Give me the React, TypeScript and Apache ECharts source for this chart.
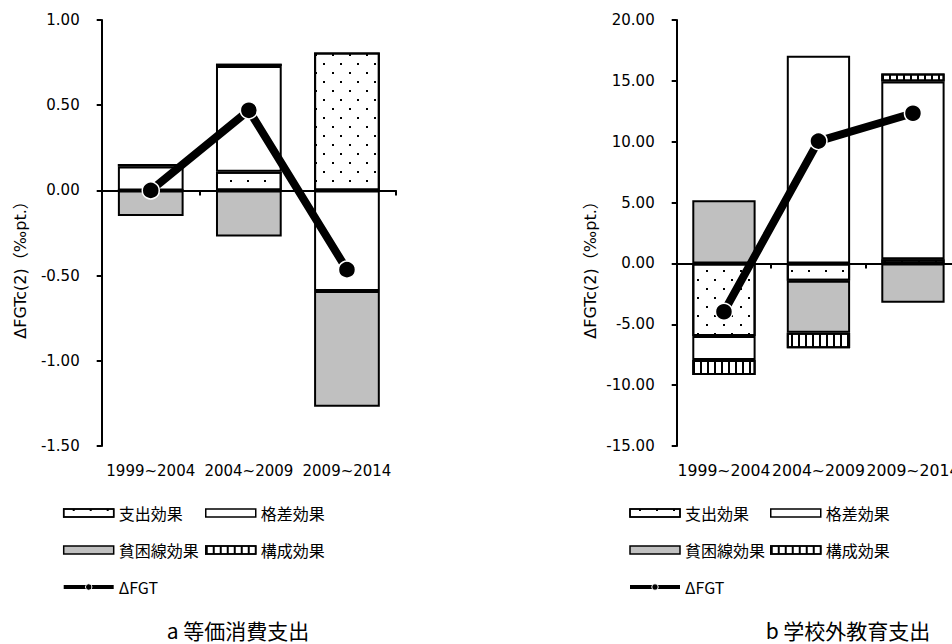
import React, { useEffect, useRef } from 'react';
import * as echarts from 'echarts';

const categories = ['1999~2004', '2004~2009', '2009~2014'];

// a 等価消費支出 (‰pt.)
const aSpending = [0.0, 0.11, 0.81];
const aGap = [0.14, 0.62, -0.59];
const aPoverty = [-0.15, -0.27, -0.68];
const aComposition = [0.015, 0.013, null];
const aFGT = [0.0, 0.47, -0.465];
const aTicks = { min: -1.5, max: 1.0, interval: 0.5 };

// b 学校外教育支出 (‰pt.)
const bSpending = [-5.96, -1.43, 0.35];
const bGap = [-1.97, 17.07, 14.6];
const bPoverty = [5.19, -4.26, -3.23];
const bComposition = [-1.23, -1.28, 0.65];
const bFGT = [-3.97, 10.05, 12.34];
const bTicks = { min: -15, max: 20, interval: 5 };

const seriesNames = ['支出効果', '格差効果', '貧困線効果', '構成効果', 'ΔFGT'];
const yName = 'ΔFGTc(2)（‰pt.）';
const titles = ['a 等価消費支出', 'b 学校外教育支出'];

const LATIN = '"DejaVu Sans", "Noto Sans CJK JP", sans-serif';
const CJK = '"Noto Sans CJK JP", "DejaVu Sans", sans-serif';

const dotsDecal = {
  symbol: 'rect',
  symbolSize: 1,
  symbolKeepAspect: false,
  color: '#000',
  backgroundColor: '#fff',
  dashArrayX: [[2, 15], [0, 9, 2, 6]],
  dashArrayY: [2, 7],
};
const stripeDecal = {
  symbol: 'rect',
  symbolSize: 1,
  symbolKeepAspect: false,
  color: '#000',
  backgroundColor: '#fff',
  dashArrayX: [2, 5],
  dashArrayY: [10, 0],
};

const barStyles = [
  { color: '#fff', borderColor: '#000', borderWidth: 2, decal: dotsDecal },
  { color: '#fff', borderColor: '#000', borderWidth: 2 },
  { color: '#c0c0c0', borderColor: '#000', borderWidth: 2 },
  { color: '#fff', borderColor: '#000', borderWidth: 2, decal: stripeDecal },
];

function buildSeries(gridIdx: number, bars: (number | null)[][], line: number[]) {
  const xi = gridIdx * 2;
  const out: any[] = bars.map((d, i) => ({
    type: 'bar',
    name: seriesNames[i],
    xAxisIndex: xi,
    yAxisIndex: gridIdx,
    stack: 'g' + gridIdx,
    barWidth: '67%',
    data: d,
    itemStyle: barStyles[i],
  }));
  out.push({
    type: 'line',
    name: seriesNames[4],
    xAxisIndex: xi,
    yAxisIndex: gridIdx,
    data: line,
    symbol: 'circle',
    symbolSize: 17,
    lineStyle: { color: '#000', width: 8 },
    itemStyle: { color: '#000', borderColor: '#fff', borderWidth: 1.5 },
    z: 5,
  });
  return out;
}

function xAxes(gridIndex: number, fontSize: number) {
  return [
    {
      gridIndex,
      type: 'category',
      data: categories,
      position: 'bottom',
      axisLine: { show: false, onZero: false },
      axisTick: { show: false },
      splitLine: { show: false },
      axisLabel: { interval: 0, margin: 17, fontSize, color: '#000', fontFamily: LATIN },
    },
    {
      gridIndex,
      type: 'category',
      data: categories,
      position: 'top',
      axisLine: { show: true, onZero: true, lineStyle: { color: '#000', width: 2 } },
      axisTick: { show: true, inside: true, length: 5, lineStyle: { color: '#000', width: 2 } },
      axisLabel: { show: false },
      splitLine: { show: false },
    },
  ];
}

function yAxis(gridIndex: number, t: { min: number; max: number; interval: number }) {
  return {
    gridIndex,
    type: 'value',
    min: t.min,
    max: t.max,
    interval: t.interval,
    axisLine: { show: true, onZero: false, lineStyle: { color: '#000', width: 2 } },
    axisTick: { show: true, length: 5, lineStyle: { color: '#000', width: 2 } },
    splitLine: { show: false },
    axisLabel: {
      margin: 22,
      fontSize: 15,
      color: '#000',
      fontFamily: LATIN,
      formatter: (v: number) => v.toFixed(2),
    },
  };
}

function legendCol(left: number, names: string[]) {
  return {
    orient: 'vertical',
    left,
    top: 494.5,
    padding: 0,
    itemGap: 0,
    itemWidth: 50,
    itemHeight: 8,
    selectedMode: false,
    textStyle: { fontFamily: CJK, fontSize: 16, color: '#000', lineHeight: 37 },
    data: names.map((n) =>
      n === 'ΔFGT'
        ? {
            name: n,
            lineStyle: { color: '#000', width: 4 },
            itemStyle: { color: '#000', borderColor: '#fff', borderWidth: 1 },
          }
        : { name: n, icon: 'rect', itemStyle: { borderColor: '#000', borderWidth: 1.5 } }
    ),
  };
}

export default function App() {
  const ref = useRef<HTMLDivElement>(null);
  useEffect(() => {
    if (!ref.current) return;
    const chart = echarts.init(ref.current, undefined, { renderer: 'svg' });
    const option: any = {
      animation: false,
      backgroundColor: '#fff',
      textStyle: { fontFamily: LATIN, color: '#000' },
      grid: [
        { left: 101.7, top: 20, width: 294.3, height: 426, outerBoundsMode: 'none' },
        { left: 676.7, top: 20, width: 283.5, height: 426, outerBoundsMode: 'none' },
      ],
      xAxis: [...xAxes(0, 15), ...xAxes(1, 15.7)],
      yAxis: [yAxis(0, aTicks), yAxis(1, bTicks)],
      legend: [
        legendCol(61.7, [seriesNames[0], seriesNames[2], seriesNames[4]]),
        legendCol(205, [seriesNames[1], seriesNames[3]]),
        legendCol(628, [seriesNames[0], seriesNames[2], seriesNames[4]]),
        legendCol(770, [seriesNames[1], seriesNames[3]]),
      ],
      series: [
        ...buildSeries(0, [aSpending, aGap, aPoverty, aComposition], aFGT),
        ...buildSeries(1, [bSpending, bGap, bPoverty, bComposition], bFGT),
      ],
      graphic: [
        {
          type: 'text',
          x: 20,
          y: 266,
          rotation: Math.PI / 2,
          style: { text: yName, font: '16px ' + LATIN, fill: '#000', align: 'center', verticalAlign: 'middle' },
        },
        {
          type: 'text',
          x: 590,
          y: 266,
          rotation: Math.PI / 2,
          style: { text: yName, font: '16px ' + LATIN, fill: '#000', align: 'center', verticalAlign: 'middle' },
        },
        {
          type: 'text',
          x: 238,
          y: 630,
          style: { text: titles[0], font: '21px ' + CJK, fill: '#000', align: 'center', verticalAlign: 'middle' },
        },
        {
          type: 'text',
          x: 848,
          y: 630,
          style: { text: titles[1], font: '21px ' + CJK, fill: '#000', align: 'center', verticalAlign: 'middle' },
        },
      ],
    };
    chart.setOption(option);
    return () => chart.dispose();
  }, []);
  return (
    <div
      ref={ref}
      style={{ position: 'fixed', left: 0, top: 0, width: 952, height: 644, background: '#fff' }}
    />
  );
}
